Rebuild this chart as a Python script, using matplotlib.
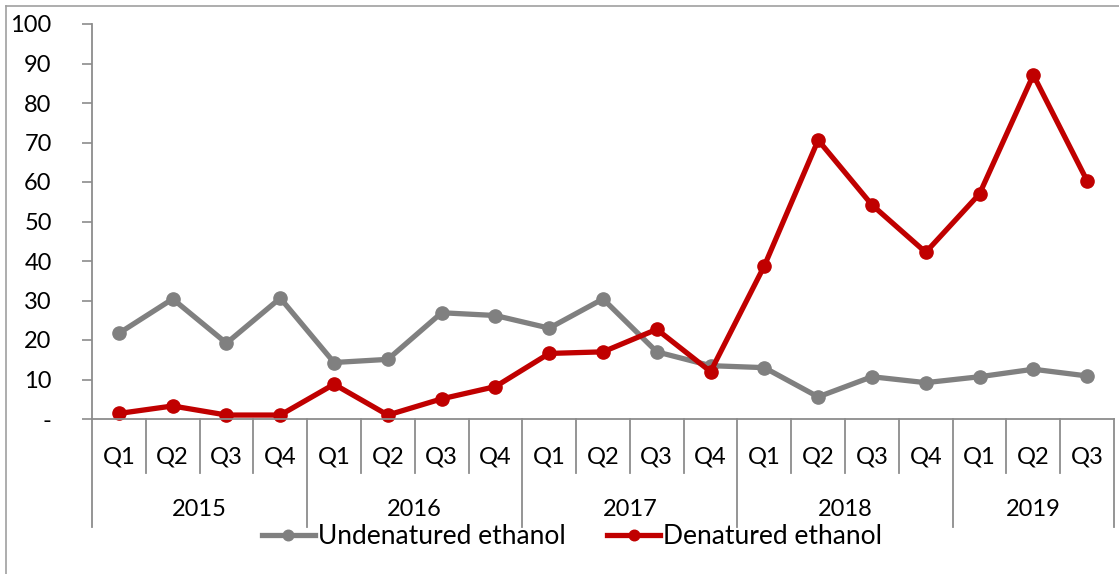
import numpy as np
import matplotlib.pyplot as plt
from matplotlib.lines import Line2D
import matplotlib.transforms as mtransforms

plt.rcParams['font.family'] = ['Lato', 'DejaVu Sans']

years = ['2015', '2016', '2017', '2018', '2019']
quarters_per_year = [4, 4, 4, 4, 3]
undenatured = [21.7, 30.4, 19.2, 30.6, 14.3, 15.1, 26.9, 26.2, 23.0, 30.4,
               17.0, 13.5, 13.0, 5.6, 10.7, 9.2, 10.7, 12.6, 10.9]
denatured = [1.4, 3.3, 1.0, 1.0, 8.8, 1.0, 5.1, 8.2, 16.6, 17.0,
             22.7, 12.0, 38.8, 70.6, 54.2, 42.2, 57.0, 87.1, 60.3]

quarter_labels = []
for n in quarters_per_year:
    quarter_labels += ['Q%d' % (i + 1) for i in range(n)]
x = np.arange(len(quarter_labels))

W, H = 1119, 574
fig = plt.figure(figsize=(W / 100, H / 100), dpi=100)
ax = fig.add_axes([92 / W, 1 - 419 / H, (1114 - 92) / W, (419 - 24) / H])

grey = '#808080'
red = '#C00000'
axcol = '#8c8c8c'
fs = 17

ax.plot(x, undenatured, color=grey, lw=3.8, marker='o', ms=9.5,
        label='Undenatured ethanol', solid_joinstyle='round', clip_on=False)
ax.plot(x, denatured, color=red, lw=3.8, marker='o', ms=9.5,
        label='Denatured ethanol', solid_joinstyle='round', clip_on=False)

ax.set_xlim(-0.5, len(x) - 0.5)
ax.set_ylim(0, 100)
ax.set_yticks(np.arange(0, 101, 10))
ax.set_yticklabels(['-' if v == 0 else str(v) for v in range(0, 101, 10)])
ax.tick_params(axis='y', labelsize=fs, length=7, width=1.2, color=axcol, pad=22)
ax.set_xticks([])
for s in ['top', 'right']:
    ax.spines[s].set_visible(False)
for s in ['left', 'bottom']:
    ax.spines[s].set_color(axcol)
    ax.spines[s].set_linewidth(1.3)

# two-level category axis
trans = mtransforms.blended_transform_factory(ax.transData, ax.transAxes)
ph = 419 - 24
q_bottom = -(473 - 419) / ph
y_bottom = -(527 - 419) / ph
bounds = np.cumsum([0] + quarters_per_year) - 0.5
for b in np.arange(-0.5, len(x)):
    yb = y_bottom if b in bounds else q_bottom
    ax.plot([b, b], [0, yb], transform=trans, color=axcol, lw=1.3, clip_on=False)
for xi, lab in zip(x, quarter_labels):
    ax.text(xi, -(457 - 419) / ph, lab, transform=trans, ha='center', va='center',
            fontsize=fs)
for i, yr in enumerate(years):
    ax.text((bounds[i] + bounds[i + 1]) / 2, -(510 - 419) / ph, yr, transform=trans,
            ha='center', va='center', fontsize=fs)

fig.legend(loc='center', bbox_to_anchor=(572 / W, 1 - 537 / H), ncol=2,
           frameon=False, fontsize=19, handlelength=2.0, handletextpad=0.1,
           columnspacing=1.6, borderaxespad=0, markerscale=0.8)

# chart area border
fig.add_artist(Line2D([6 / W, 6 / W], [0, 1 - 6 / H], color='#a0a0a0', lw=1.2))
fig.add_artist(Line2D([6 / W, 1], [1 - 6 / H, 1 - 6 / H], color='#a0a0a0', lw=1.2))

fig.savefig('out.png', dpi=100)
